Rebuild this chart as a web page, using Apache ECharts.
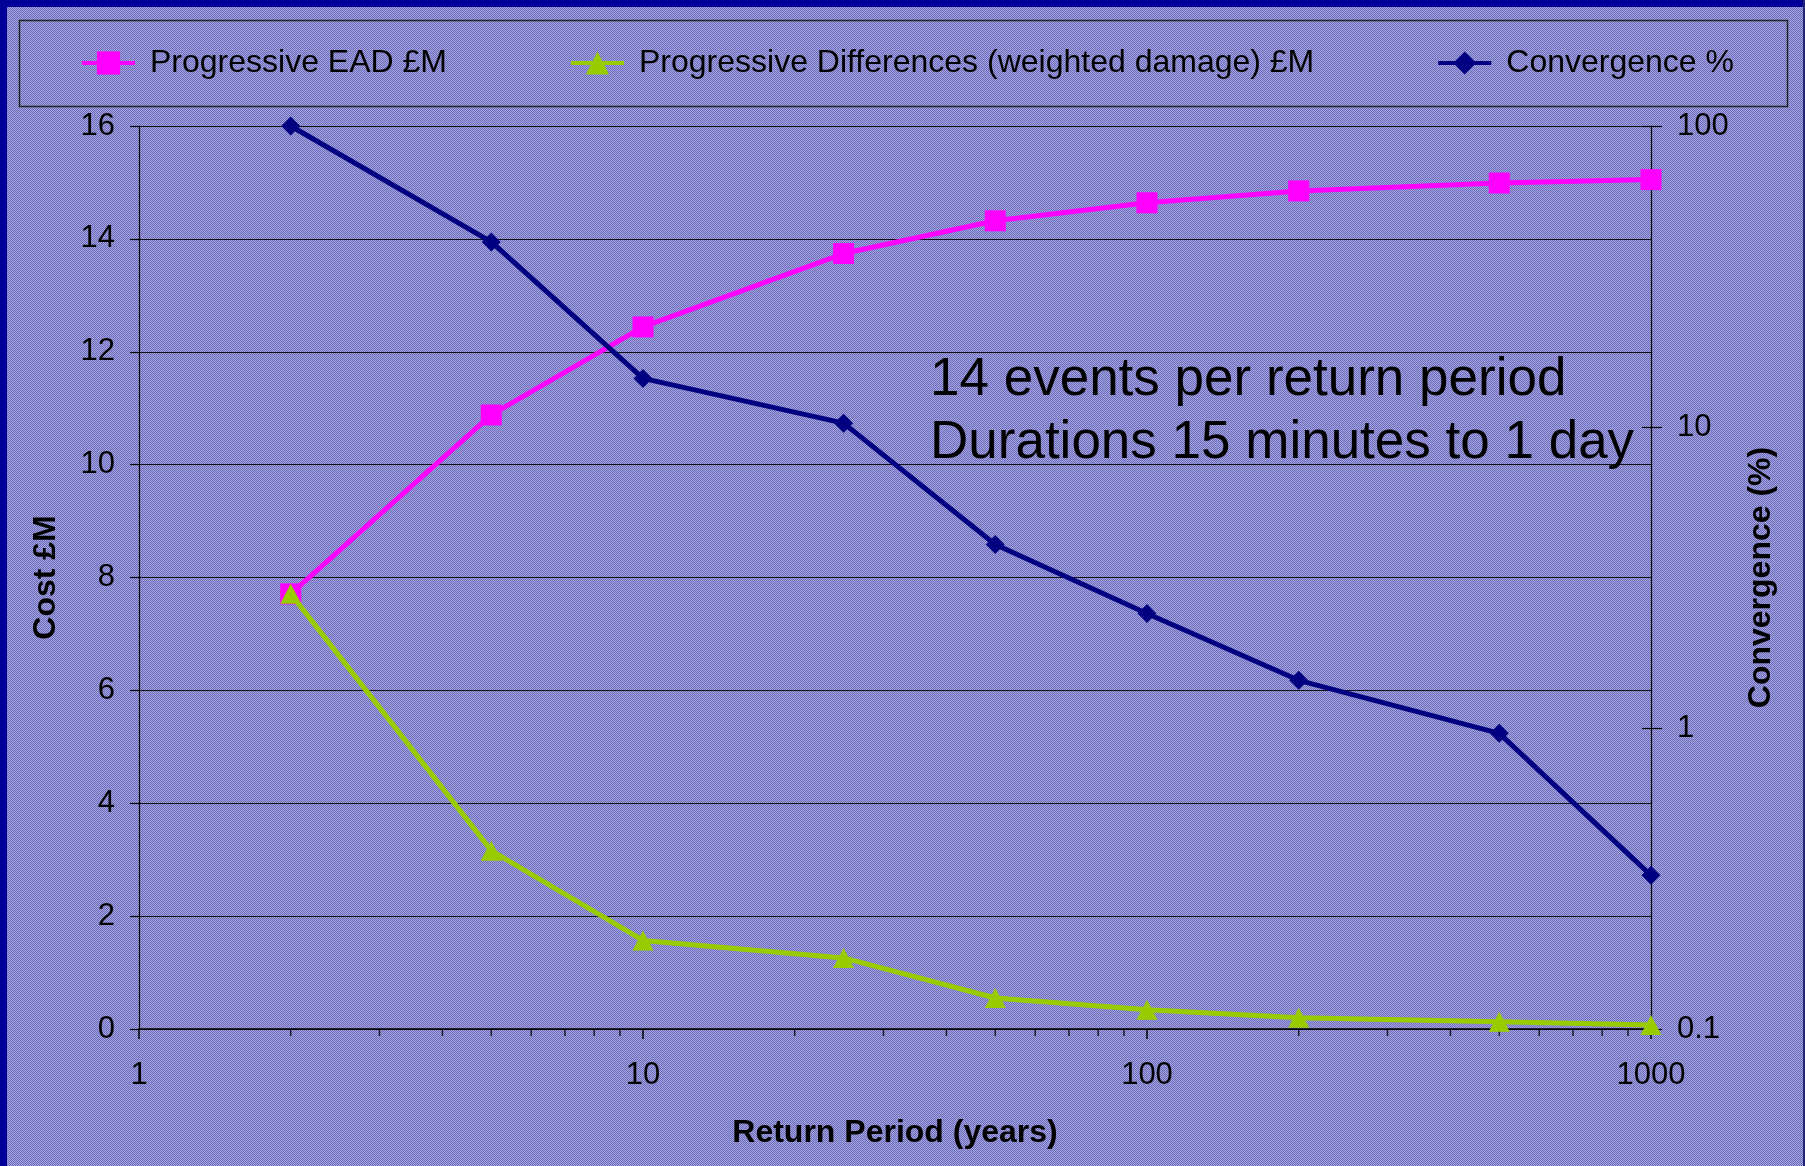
<!DOCTYPE html>
<html>
<head>
<meta charset="utf-8">
<script src="https://cdn.jsdelivr.net/npm/echarts@6/dist/echarts.min.js"></script>
<style>
html,body{margin:0;padding:0;width:1805px;height:1166px;overflow:hidden;}
#bg{position:absolute;left:0;top:0;width:1805px;height:1166px;
  background:repeating-conic-gradient(#a4a4e0 0 25%, #6c6cba 0 50%) 0 0/2px 2px;}
#chart{position:absolute;left:0;top:0;width:1805px;height:1166px;}
.b{position:absolute;background:#000099;pointer-events:none;}
</style>
</head>
<body>
<div id="bg"></div>
<div id="chart"></div>
<div class="b" style="left:0;top:0;width:7px;height:1166px;"></div>
<div class="b" style="left:0;top:0;width:1805px;height:7px;"></div>
<div class="b" style="left:1803px;top:0;width:2px;height:1166px;background:#222277"></div>
<script>
// ---- data ----
const returnPeriods = [2, 5, 10, 25, 50, 100, 200, 500, 1000];
const progressiveEAD = [7.71, 10.88, 12.44, 13.74, 14.32, 14.64, 14.85, 14.99, 15.05];
const progressiveDiff = [7.71, 3.16, 1.57, 1.26, 0.55, 0.34, 0.20, 0.13, 0.07];
const convergence = [100, 41.2, 14.5, 10.3, 4.07, 2.40, 1.44, 0.96, 0.324];
const minorTickValues = [2,3,4,5,6,7,8,9,20,30,40,50,60,70,80,90,200,300,400,500,600,700,800,900];
const seriesNames = ['Progressive EAD £M', 'Progressive Differences (weighted damage) £M', 'Convergence %'];
const annotationLines = ['14 events per return period', 'Durations 15 minutes to 1 day'];

const FONT = '"Liberation Sans", Arial, sans-serif';
const pair = (xs, ys) => xs.map((x, i) => [x, ys[i]]);

const chart = echarts.init(document.getElementById('chart'), null, {renderer: 'canvas'});
const option = {
  backgroundColor: 'transparent',
  animation: false,
  textStyle: {fontFamily: FONT, color: '#000'},
  grid: {left: 139, right: 154, top: 126, bottom: 137, containLabel: false},
  legend: {
    data: seriesNames,
    left: 80, top: 47,
    padding: 0,
    itemWidth: 53, itemHeight: 29,
    itemGap: 122,
    lineStyle: {width: 4},
    textStyle: {fontSize: 32, fontFamily: FONT, color: '#000', padding: [0, 0, 0, 10], lineHeight: 32}
  },
  graphic: [
    {type: 'rect', left: 17, top: 18, z: 0, silent: true,
     shape: {width: 1768, height: 86}, style: {fill: 'none', stroke: '#222', lineWidth: 1.5}},
    {type: 'text', x: 930, y: 380, z: 10, silent: true,
     style: {text: annotationLines[0], font: '53px ' + FONT, fill: '#000', textVerticalAlign: 'middle'}},
    {type: 'text', x: 930, y: 443, z: 10, silent: true,
     style: {text: annotationLines[1], font: '53px ' + FONT, fill: '#000', textVerticalAlign: 'middle'}}
  ],
  xAxis: {
    type: 'log', logBase: 10, min: 1, max: 1000,
    name: 'Return Period (years)', nameLocation: 'middle', nameGap: 88,
    nameTextStyle: {fontSize: 32, fontWeight: 'bold', fontFamily: FONT, color: '#000'},
    axisLine: {lineStyle: {color: '#000', width: 1.5}},
    axisTick: {show: true, inside: false, length: 10, lineStyle: {color: '#000', width: 1.5}},
    minorTick: {show: false},
    axisLabel: {fontSize: 31, color: '#000', margin: 31, fontFamily: FONT, formatter: v => String(v)},
    splitLine: {show: false}
  },
  yAxis: [
    {
      type: 'value', min: 0, max: 16, interval: 2, position: 'left',
      name: 'Cost £M', nameLocation: 'middle', nameRotate: 90, nameGap: 77,
      nameTextStyle: {fontSize: 32, fontWeight: 'bold', fontFamily: FONT, color: '#000'},
      axisLine: {show: true, lineStyle: {color: '#000', width: 1.2}},
      axisTick: {show: true, inside: false, length: 9, lineStyle: {color: '#000', width: 1.2}},
      axisLabel: {fontSize: 31, color: '#000', margin: 24, fontFamily: FONT},
      splitLine: {show: true, lineStyle: {color: '#111', width: 1.2}}
    },
    {
      type: 'log', logBase: 10, min: 0.1, max: 100, position: 'right',
      name: 'Convergence (%)', nameLocation: 'middle', nameRotate: 90, nameGap: 94,
      nameTextStyle: {fontSize: 32, fontWeight: 'bold', fontFamily: FONT, color: '#000'},
      axisLine: {show: true, lineStyle: {color: '#000', width: 1.2}},
      axisTick: {show: true, inside: false, length: 11, lineStyle: {color: '#000', width: 1.2}},
      axisLabel: {fontSize: 31, color: '#000', margin: 26, fontFamily: FONT, formatter: v => String(v)},
      splitLine: {show: false}
    },
    {
      type: 'log', logBase: 10, min: 0.1, max: 100, position: 'right',
      axisLine: {show: false},
      axisTick: {show: true, inside: true, length: 9, lineStyle: {color: '#000', width: 1.2}},
      axisLabel: {show: false},
      splitLine: {show: false}
    }
  ],
  series: [
    {
      name: seriesNames[0], type: 'line', xAxisIndex: 0, yAxisIndex: 0,
      data: pair(returnPeriods, progressiveEAD),
      symbol: 'rect', symbolSize: 21,
      lineStyle: {color: '#FF00FF', width: 5},
      itemStyle: {color: '#FF00FF'}, z: 3
    },
    {
      name: seriesNames[1], type: 'line', xAxisIndex: 0, yAxisIndex: 0,
      data: pair(returnPeriods, progressiveDiff),
      symbol: 'triangle', symbolSize: [21, 20],
      lineStyle: {color: '#99CC00', width: 5},
      itemStyle: {color: '#99CC00'}, z: 4
    },
    {
      name: seriesNames[2], type: 'line', xAxisIndex: 0, yAxisIndex: 1,
      data: pair(returnPeriods, convergence),
      symbol: 'diamond', symbolSize: [19, 19],
      lineStyle: {color: '#000080', width: 5},
      itemStyle: {color: '#000080'}, z: 5
    },
    {
      name: 'minorTicks', type: 'scatter', xAxisIndex: 0, yAxisIndex: 0,
      data: minorTickValues.map(v => [v, 0]),
      symbol: 'rect', symbolSize: [1.5, 7], symbolOffset: [0, 3.5],
      itemStyle: {color: '#000'}, silent: true, clip: false, z: 2,
      emphasis: {disabled: true}
    }
  ]
};
chart.setOption(option);
</script>
</body>
</html>
